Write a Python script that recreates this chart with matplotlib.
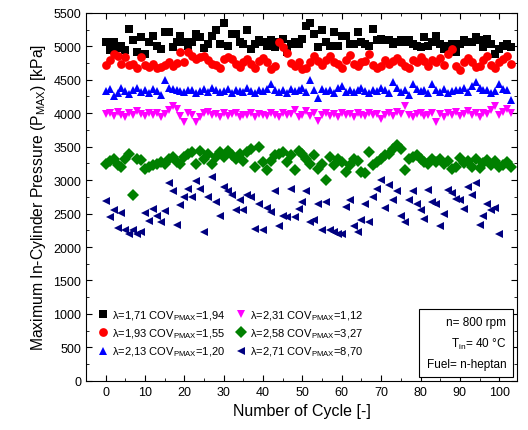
import numpy as np
import matplotlib
matplotlib.use("Agg")
import matplotlib.pyplot as plt

plt.rcParams["font.family"] = ["Liberation Sans", "DejaVu Sans"]
plt.rcParams["mathtext.fontset"] = "custom"
plt.rcParams["mathtext.rm"] = "Liberation Sans"
plt.rcParams["mathtext.it"] = "Liberation Sans"

# ── data (kPa per cycle) ──────────────────────────────────────────────────────
p_l171 = [5060, 4940, 5070, 4980, 5010, 4940, 5260, 5090, 4910, 5140, 4890, 5070, 5160, 5010, 4960,
          5210, 5210, 4990, 5070, 5160, 5060, 5000, 5060, 5190, 5140, 4970, 5040, 5160, 5240, 5040,
          5350, 5010, 5190, 5190, 5060, 5040, 5240, 4960, 5040, 5090, 5060, 5010, 5090, 4990, 5060,
          5110, 4920, 5040, 5060, 5040, 5110, 5310, 5340, 5190, 4990, 5250, 5060, 5010, 5210, 5010,
          5160, 5160, 5040, 5040, 5210, 5060, 5040, 5010, 5260, 5090, 5110, 5090, 5090, 5040, 5060,
          5090, 5060, 5090, 5040, 5010, 4990, 5140, 5010, 5060, 5160, 5040, 4960, 5010, 5040, 4910,
          5040, 5090, 5060, 5060, 5140, 5090, 4990, 5110, 5040, 4890, 4960, 5010, 5040, 4990]
p_l193 = [4720, 4800, 4890, 4850, 4740, 4840, 4720, 4740, 4670, 4840, 4720, 4690, 4740, 4670, 4690,
          4720, 4770, 4700, 4750, 4910, 4770, 4910, 4860, 4810, 4840, 4860, 4800, 4740, 4720, 4670,
          4810, 4840, 4810, 4740, 4690, 4760, 4810, 4730, 4680, 4780, 4820, 4760, 4660, 4700, 5060,
          4990, 4900, 4750, 4700, 4760, 4660, 4680, 4770, 4860, 4780, 4720, 4800, 4850, 4760, 4740,
          4670, 4800, 4870, 4740, 4700, 4760, 4780, 4880, 4720, 4670, 4700, 4790, 4740, 4780, 4820,
          4760, 4710, 4680, 4800, 4760, 4840, 4780, 4710, 4800, 4760, 4820, 4720, 4880, 4960, 4700,
          4640, 4760, 4820, 4770, 4690, 4700, 4800, 4860, 4720, 4680, 4770, 4810, 4850, 4740]
p_l213 = [4330, 4360, 4250, 4300, 4370, 4330, 4290, 4350, 4380, 4320, 4340, 4300, 4360, 4330, 4270,
          4490, 4380, 4360, 4340, 4330, 4320, 4350, 4340, 4300, 4330, 4360, 4320, 4380, 4340, 4310,
          4330, 4360, 4300, 4350, 4330, 4320, 4380, 4330, 4300, 4350, 4330, 4360, 4440, 4350, 4320,
          4340, 4300, 4360, 4330, 4350, 4380, 4320, 4490, 4340, 4220, 4360, 4330, 4340, 4300, 4380,
          4400, 4320, 4350, 4310, 4340, 4370, 4330, 4300, 4350, 4330, 4370, 4340, 4300, 4460, 4380,
          4320, 4350, 4270, 4440, 4360, 4330, 4340, 4300, 4440, 4350, 4320, 4360, 4300, 4330, 4350,
          4340, 4380, 4320, 4400, 4460, 4380, 4340, 4350, 4300, 4330, 4440, 4360, 4350, 4190]
p_l231 = [3990, 4010, 3960, 4020, 3980, 3940, 4000, 3970, 4030, 3990, 3960, 4010, 3980, 4000, 3950,
          3990, 4040, 4110, 4060, 3960, 3870, 4010, 3980, 3870, 3950, 4000, 4020, 3970, 3990, 3940,
          4000, 3960, 3990, 4010, 3950, 3980, 3970, 4000, 3950, 3990, 3970, 3960, 4010, 3980, 3950,
          4000, 3970, 3990, 4040, 3950, 3980, 4030, 3960, 4000, 3890, 3980, 4010, 3960, 3990, 3940,
          4000, 3970, 3990, 3950, 4010, 3980, 3960, 4000, 3970, 3990, 3920, 3980, 4000, 3960, 4020,
          3990, 4110, 3970, 3940, 3990, 4000, 3960, 3980, 4010, 3870, 3990, 3950, 4000, 3980, 4020,
          3960, 3990, 4030, 3970, 4000, 3950, 4010, 3990, 4050, 4100, 3980, 4020, 4060, 4000]
p_l258 = [3240, 3280, 3320, 3220, 3190, 3320, 3390, 2780, 3320, 3300, 3170, 3200, 3220, 3240, 3270,
          3240, 3320, 3340, 3270, 3240, 3340, 3390, 3420, 3240, 3440, 3320, 3390, 3240, 3340, 3420,
          3340, 3440, 3370, 3320, 3390, 3290, 3420, 3470, 3200, 3490, 3270, 3150, 3290, 3370, 3390,
          3420, 3270, 3370, 3150, 3440, 3390, 3320, 3240, 3370, 3170, 3240, 3000, 3340, 3220, 3320,
          3270, 3120, 3220, 3320, 3280, 3120, 3100, 3420, 3220, 3270, 3320, 3370, 3390, 3470, 3520,
          3470, 3150, 3320, 3340, 3370, 3320, 3270, 3240, 3320, 3270, 3320, 3240, 3290, 3170, 3200,
          3330, 3260, 3290, 3200, 3310, 3180, 3250, 3300, 3220, 3280, 3190, 3230, 3270, 3200]
p_l271 = [2690, 2450, 2560, 2290, 2510, 2260, 2200, 2260, 2190, 2230, 2510, 2390, 2570, 2470, 2380,
          2540, 2950, 2830, 2330, 2630, 2740, 2870, 2740, 2980, 2870, 2230, 2740, 3040, 2680, 2470,
          2900, 2830, 2770, 2550, 2700, 2550, 2770, 2750, 2270, 2650, 2250, 2590, 2530, 2830, 2320,
          2470, 2450, 2860, 2450, 2570, 2680, 2830, 2380, 2400, 2650, 2250, 2680, 2250, 2230, 2200,
          2200, 2600, 2700, 2320, 2230, 2400, 2650, 2380, 2750, 2860, 3000, 2590, 2920, 2700, 2830,
          2470, 2380, 2700, 2830, 2650, 2550, 2420, 2850, 2680, 2650, 2320, 2500, 2850, 2800, 2720,
          2700, 2570, 2900, 2770, 2950, 2330, 2470, 2650, 2560, 2580, 2200]

labels = [r"λ=1,71 COV$_{\mathrm{PMAX}}$=1,94",
          r"λ=1,93 COV$_{\mathrm{PMAX}}$=1,55",
          r"λ=2,13 COV$_{\mathrm{PMAX}}$=1,20",
          r"λ=2,31 COV$_{\mathrm{PMAX}}$=1,12",
          r"λ=2,58 COV$_{\mathrm{PMAX}}$=3,27",
          r"λ=2,71 COV$_{\mathrm{PMAX}}$=8,70"]
series = [p_l171, p_l193, p_l213, p_l231, p_l258, p_l271]
markers = ["s", "o", "^", "v", "D", "<"]
colors = ["black", "red", "blue", "#FF00FF", "#008000", "#000080"]

fig = plt.figure(figsize=(5.28, 4.31), dpi=100)
ax = fig.add_axes([0.163, 0.114, 0.816, 0.854])

handles = []
for vals, m, c, lab in zip(series, markers, colors, labels):
    x = np.arange(len(vals))
    h, = ax.plot(x, vals, linestyle="none", marker=m, color=c, markersize=6.3,
                 markeredgewidth=0, label=lab)
    handles.append(h)

ax.set_xlim(-5, 104.5)
ax.set_ylim(0, 5500)
ax.set_xticks(np.arange(0, 101, 10))
ax.set_yticks(np.arange(0, 5501, 500))
ax.set_xticks(np.arange(0, 105, 5), minor=True)
ax.set_yticks(np.arange(0, 5501, 250), minor=True)
ax.tick_params(which="both", direction="in", top=True, right=True, labelsize=9)
ax.tick_params(which="major", length=4)
ax.tick_params(which="minor", length=2)

ax.set_xlabel("Number of Cycle [-]", fontsize=11.5)
ax.set_ylabel(r"Maximum In-Cylinder Pressure (P$_{\mathrm{MAX}}$) [kPa]", fontsize=11.3)

ax.legend(handles, labels, ncol=2, loc="lower left", bbox_to_anchor=(0.005, 0.04),
          frameon=False, fontsize=8, handletextpad=0.2, columnspacing=0.9,
          labelspacing=0.42, borderaxespad=0.3, handlelength=1.2)

ax.text(0.975, 0.03, "n= 800 rpm\nT$_{\\mathrm{in}}$= 40 °C\nFuel= n-heptan", transform=ax.transAxes,
        ha="right", va="bottom", fontsize=8.5, linespacing=1.75,
        bbox=dict(boxstyle="square,pad=0.6", fc="white", ec="black", lw=0.8))

fig.savefig("out.png", dpi=100)
